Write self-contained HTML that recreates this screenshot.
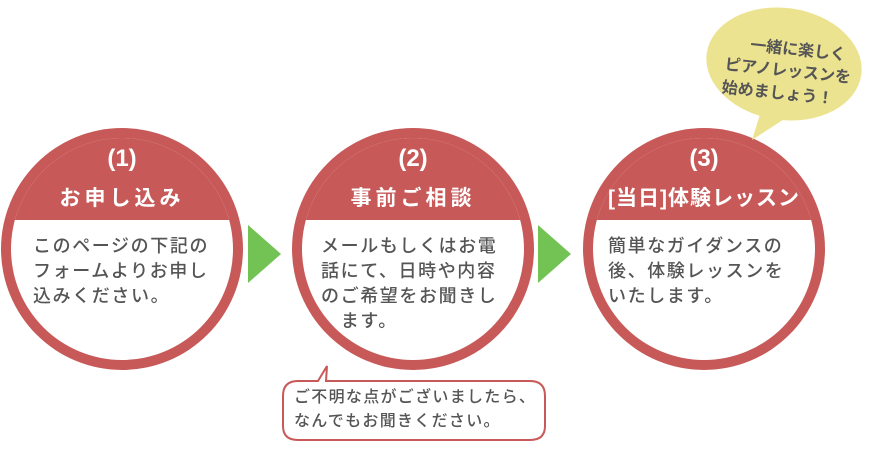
<!DOCTYPE html>
<html><head><meta charset="utf-8"><style>
body{margin:0;background:#fff;width:870px;height:475px;overflow:hidden;position:relative;font-family:"Liberation Sans","Noto Sans CJK JP",sans-serif}
.n{position:absolute;width:242px;text-align:center;color:#fff;font-weight:bold}
.t{position:absolute;color:#555;font-size:18px;line-height:25px;white-space:nowrap;letter-spacing:1.6px;font-weight:500}
.ar{position:absolute;width:0;height:0;border-top:29px solid transparent;border-bottom:29px solid transparent;border-left:33px solid #72c354;top:225px}
</style></head><body>
<svg style="position:absolute;left:0;top:0" width="870" height="475">
<defs>
<clipPath id="k1"><circle cx="122" cy="249" r="111"/></clipPath>
<clipPath id="k2"><circle cx="413" cy="249" r="111"/></clipPath>
<clipPath id="k3"><circle cx="704" cy="249" r="111"/></clipPath>
</defs>
<circle cx="122" cy="249" r="121" fill="#c75a59"/><circle cx="122" cy="249" r="111" fill="#fff"/><rect x="0" y="120" width="250" height="100" fill="#c75a59" clip-path="url(#k1)"/>
<circle cx="413" cy="249" r="121" fill="#c75a59"/><circle cx="413" cy="249" r="111" fill="#fff"/><rect x="290" y="120" width="250" height="100" fill="#c75a59" clip-path="url(#k2)"/>
<circle cx="704" cy="249" r="121" fill="#c75a59"/><circle cx="704" cy="249" r="111" fill="#fff"/><rect x="580" y="120" width="250" height="100" fill="#c75a59" clip-path="url(#k3)"/>
<path d="M762 108 L752 140 L792 114 Z" fill="#ece390"/>
<ellipse cx="784" cy="64" rx="78" ry="56" transform="rotate(8 784 64)" fill="#ece390"/>
<path d="M298 381 L318 381 L327 366 L326 381 L530 381 Q545 381 545 396 L545 426 Q545 440 530 440 L298 440 Q283 440 283 426 L283 396 Q283 381 298 381 Z" fill="#fff" stroke="#c75a59" stroke-width="2"/>
<g font-size="16" fill="#555" font-weight="bold" text-anchor="middle" font-family="Liberation Sans,Noto Sans CJK JP,sans-serif" transform="rotate(6 786 70)">
<text x="796" y="54">一緒に楽しく</text>
<text x="788" y="76">ピアノレッスンを</text>
<text x="780" y="99">始めましょう！</text>
</g>
</svg>
<div class="n" style="left:1px;top:145px;font-size:24px">(1)</div><div class="n" style="left:1px;top:182px;font-size:21px;letter-spacing:4px">お申し込み</div>
<div class="n" style="left:292px;top:145px;font-size:24px">(2)</div><div class="n" style="left:292px;top:182px;font-size:21px;letter-spacing:4px">事前ご相談</div>
<div class="n" style="left:583px;top:145px;font-size:24px">(3)</div><div class="n" style="left:583px;top:182px;font-size:21px;letter-spacing:1px">[当日]体験レッスン</div>
<div class="ar" style="left:248px"></div>
<div class="ar" style="left:538px"></div>
<div class="t" style="left:33px;top:234px">このページの下記の<br>フォームよりお申し<br>込みください。</div>
<div class="t" style="left:321px;top:234px">メールもしくはお電<br>話にて、日時や内容<br>のご希望をお聞きし<br>&nbsp;&nbsp;&nbsp;ます。</div>
<div class="t" style="left:608px;top:234px">簡単なガイダンスの<br>後、体験レッスンを<br>いたします。</div>
<div class="t" style="left:294px;top:386px;font-size:16px;line-height:24px;letter-spacing:1.3px">ご不明な点がございましたら、<br>なんでもお聞きください。</div>
</body></html>
